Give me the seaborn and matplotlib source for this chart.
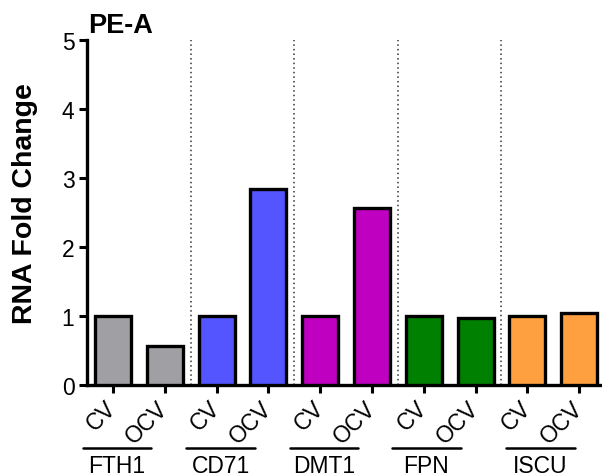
import numpy as np
import pandas as pd
import matplotlib
matplotlib.use("Agg")
import matplotlib.pyplot as plt
import seaborn as sns

# data
genes = ["FTH1", "CD71", "DMT1", "FPN", "ISCU"]
conditions = ["CV", "OCV"]
fold_change = [1.00, 0.57, 1.00, 2.84, 1.00, 2.56, 1.00, 0.97, 1.00, 1.05]
gene_colors = ["#A0A0A4", "#5555FF", "#C000C0", "#008000", "#FFA040"]
# horizontal nudge of each gene label (in bar units), as in the original layout
label_shift = [0.08, 0.08, 0.08, 0.05, 0.25]

sns.set_theme(style="ticks")
plt.rcParams["font.family"] = ["Liberation Sans", "DejaVu Sans"]
for k in ["text.color", "axes.labelcolor", "xtick.color", "ytick.color", "axes.edgecolor"]:
    plt.rcParams[k] = "black"

keys = [f"{g} {c}" for g in genes for c in conditions]
df = pd.DataFrame({"key": keys, "value": fold_change})
palette = {k: gene_colors[i // 2] for i, k in enumerate(keys)}

fig = plt.figure(figsize=(6.02, 4.77), dpi=100)
ax = fig.add_axes([0.1445, 0.1908, 0.8555, 0.7232])

sns.barplot(data=df, x="key", y="value", hue="key", palette=palette,
            order=keys, legend=False, width=0.695, edgecolor="black",
            linewidth=2.4, saturation=1, ax=ax, zorder=3)

# dotted separators between genes
for i in range(1, len(genes)):
    ax.axvline(2 * i - 0.5, ymin=0, ymax=1, color="#333333", lw=1.1,
               ls=(0, (1, 2)), zorder=1)

ax.set_xlim(-0.5, 9.44)
ax.set_ylim(0, 5)
ax.set_yticks(range(6))
ax.set_ylabel("RNA Fold Change", fontsize=20.5, fontweight="bold")
ax.yaxis.set_label_coords(-0.095, 0.53)
ax.set_xlabel("")
ax.set_xticks(range(len(keys)))
ax.set_xticklabels([c for g in genes for c in conditions], rotation=45,
                   ha="right", va="center", rotation_mode="anchor", fontsize=16.5)
ax.tick_params(axis="y", labelsize=16.5, width=2.2, length=6, pad=3)
ax.tick_params(axis="x", width=2.2, length=6, pad=8)
for s in ["top", "right"]:
    ax.spines[s].set_visible(False)
for s in ["left", "bottom"]:
    ax.spines[s].set_linewidth(2.4)

ax.text(0.003, 1.022, "PE-A", transform=ax.transAxes, fontsize=19.5,
        fontweight="bold", ha="left", va="baseline")

# gene group labels with a line above
trans = ax.get_xaxis_transform()
for i, g in enumerate(genes):
    cx = 2 * i + label_shift[i]
    ax.plot([cx - 0.66, cx + 0.66], [-0.183, -0.183], transform=trans,
            color="black", lw=1.8, clip_on=False)
    ax.text(cx, -0.252, g, transform=trans, ha="center", va="baseline",
            fontsize=16.5)

fig.savefig("out.png", dpi=100)
